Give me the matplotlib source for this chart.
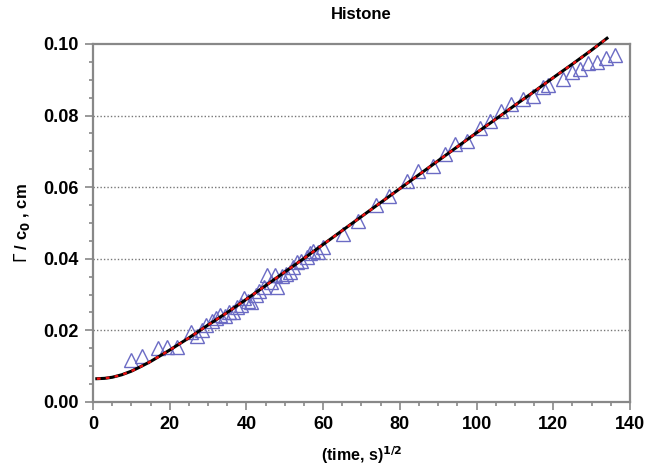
import matplotlib.pyplot as plt
from matplotlib.ticker import MultipleLocator

plt.rcParams['font.family'] = ['Liberation Sans', 'DejaVu Sans']

# measured points (triangles)
x_data = [10.0, 12.7, 17.0, 19.4, 21.8, 25.5, 27.0, 28.3, 29.5, 31.0, 32.0, 33.2,
          34.3, 35.5, 36.6, 37.5, 38.5, 39.3, 40.3, 41.2, 42.5, 43.4, 44.5, 45.3,
          46.3, 47.4, 48.0, 49.2, 50.3, 51.4, 52.2, 53.2, 54.3, 55.7, 56.6, 57.4,
          58.6, 60.0, 65.3, 69.2, 73.9, 77.2, 81.8, 84.8, 88.7, 91.8, 94.4, 97.4,
          100.9, 103.5, 106.5, 109.1, 112.1, 114.7, 117.3, 118.6, 122.6, 124.8,
          127.0, 129.1, 131.3, 133.7, 136.1]
y_data = [0.0118, 0.0128, 0.0150, 0.0154, 0.0154, 0.0195, 0.0185, 0.0200, 0.0215,
          0.0225, 0.0235, 0.0242, 0.0240, 0.0250, 0.0252, 0.0265, 0.0272, 0.0290,
          0.0282, 0.0278, 0.0300, 0.0310, 0.0322, 0.0355, 0.0335, 0.0355, 0.0320,
          0.0352, 0.0358, 0.0362, 0.0378, 0.0390, 0.0395, 0.0405, 0.0415, 0.0422,
          0.0418, 0.0432, 0.0470, 0.0506, 0.0550, 0.0575, 0.0618, 0.0644, 0.0660,
          0.0692, 0.0722, 0.0728, 0.0765, 0.0784, 0.0814, 0.0832, 0.0846, 0.0855,
          0.0880, 0.0886, 0.0902, 0.0922, 0.0929, 0.0946, 0.0951, 0.0960, 0.0968]

# fitted curve
x_fit = [1, 3, 5, 7.5, 10, 12.5, 15, 20, 25, 30, 35, 40, 45, 50, 55, 60, 65, 70,
         75, 80, 85, 90, 95, 100, 105, 110, 115, 120, 125, 130, 134]
y_fit = [0.0065, 0.0066, 0.0069, 0.0076, 0.0086, 0.0099, 0.0113, 0.0145, 0.0179,
         0.0215, 0.0250, 0.0287, 0.0325, 0.0363, 0.0401, 0.0440, 0.0479, 0.0518,
         0.0557, 0.0596, 0.0635, 0.0674, 0.0713, 0.0752, 0.0790, 0.0829, 0.0867,
         0.0906, 0.0944, 0.0983, 0.1016]

fig = plt.figure(figsize=(6.47, 4.69), dpi=100)
ax = fig.add_axes([0.1437, 0.1429, 0.83, 0.7633])

for yv in [0.02, 0.04, 0.06, 0.08]:
    ax.axhline(yv, color='#777777', lw=1, ls=(0, (1, 1.5)), zorder=1)

ax.plot(x_data, y_data, ls='none', marker='^', ms=10, mfc='none',
        mec='#6b6bc4', mew=1.0, zorder=2)
ax.plot(x_fit, y_fit, color='black', lw=2.2, clip_on=False, zorder=3)
ax.plot(x_fit, y_fit, color='#ee1111', lw=1.7, ls=(0, (1.6, 2.2)), clip_on=False, zorder=4)

ax.set_xlim(0, 140)
ax.set_ylim(0, 0.10)
ax.xaxis.set_major_locator(MultipleLocator(20))
ax.xaxis.set_minor_locator(MultipleLocator(5))
ax.yaxis.set_major_locator(MultipleLocator(0.02))
ax.yaxis.set_minor_locator(MultipleLocator(0.005))
ax.yaxis.set_major_formatter(plt.FormatStrFormatter('%.2f'))

for s in ax.spines.values():
    s.set_color('#888888')
    s.set_linewidth(1.6)
ax.tick_params(which='both', direction='out', color='#888888', width=1.2)
ax.tick_params(which='major', length=6, labelsize=13, pad=4)
ax.tick_params(which='minor', length=3)
for lab in ax.get_xticklabels() + ax.get_yticklabels():
    lab.set_fontweight('bold')

ax.set_title('Histone', fontsize=12, fontweight='bold', pad=18)
ax.set_xlabel(r'(time, s)$^{\mathbf{1/2}}$', fontsize=11.5, fontweight='bold', labelpad=8)
ax.set_ylabel(r'$\Gamma$ / c$_{\mathbf{0}}$ , cm', fontsize=12, fontweight='bold', labelpad=8)

fig.savefig('out.png', dpi=100)
